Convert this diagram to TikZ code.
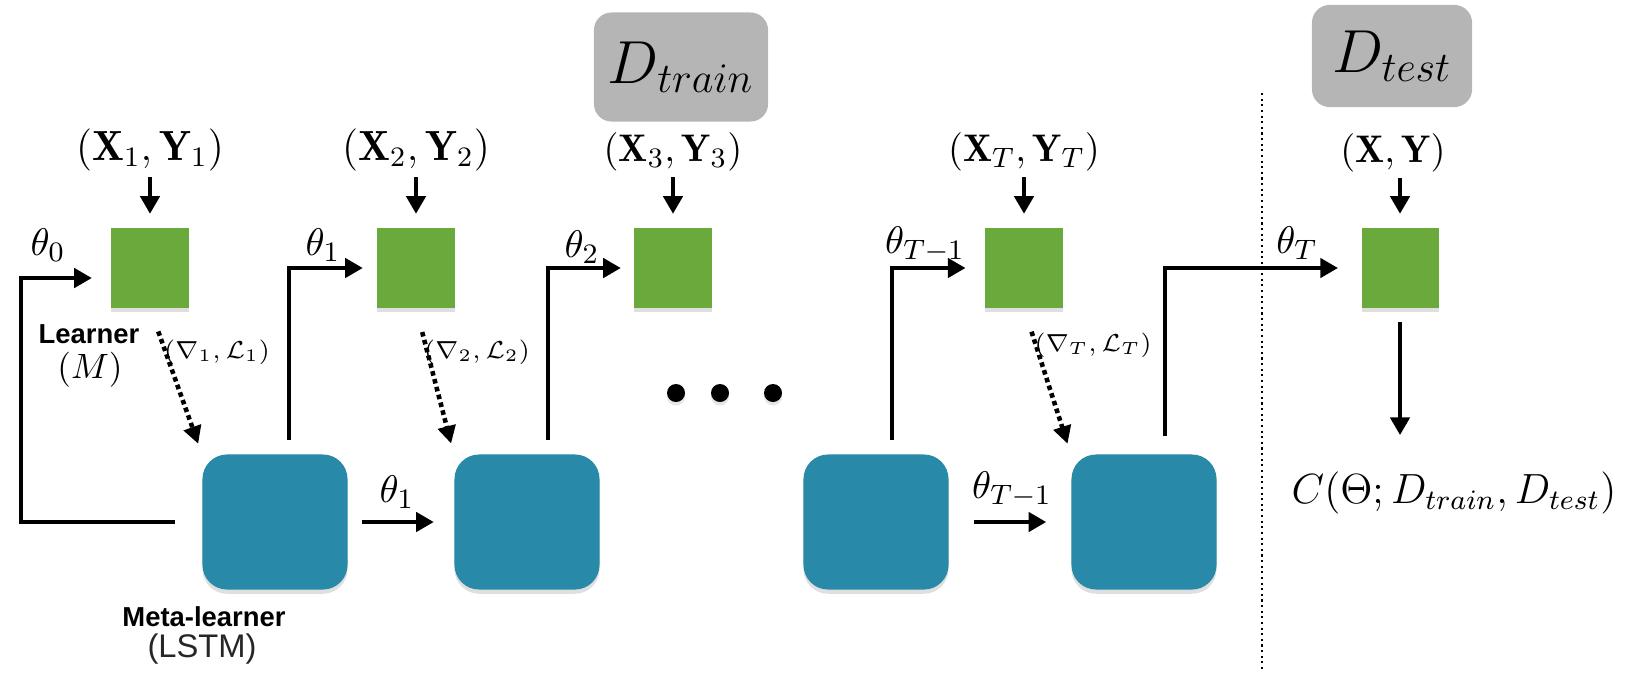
\documentclass[tikz,border=0pt]{standalone}
\usepackage{amsmath, amssymb}
\usepackage{fontspec}
\newfontfamily\sansfam{Liberation Sans}
\usepackage{tikz}
\usetikzlibrary{arrows.meta, positioning, shadows}
\usepackage{xcolor}
\definecolor{learnergreen}{RGB}{106,170,60}
\definecolor{metablue}{RGB}{40,137,168}
\definecolor{setgray}{RGB}{181,181,181}

\begin{document}
\begin{tikzpicture}[
  x=0.01cm, y=-0.01cm,
  learner/.style={fill=learnergreen, minimum width=0.77cm, minimum height=0.79cm, inner sep=0pt,
    drop shadow={opacity=0.25, shadow xshift=0pt, shadow yshift=-1.2pt}},
  meta/.style={fill=metablue, rounded corners=7pt, minimum width=1.45cm, minimum height=1.35cm, inner sep=0pt,
    drop shadow={opacity=0.25, shadow xshift=0pt, shadow yshift=-1.2pt}},
  dataset/.style={fill=setgray, rounded corners=5pt, inner sep=0pt, font=\LARGE},
  pairbig/.style={inner sep=1.5pt, font=\large},
  pair/.style={inner sep=1.5pt, font=\fontsize{10.95}{13}\selectfont},
  theta/.style={inner sep=1pt, font=\fontsize{10.95}{13}\selectfont},
  gradlbl/.style={inner sep=1pt, font=\scriptsize},
  rolelbl/.style={inner sep=0.5pt, font=\sansfam\bfseries\fontsize{7.8}{9}\selectfont},
  rolesub/.style={inner sep=0.5pt, text=black!85, font=\sansfam\fontsize{9.3}{11}\selectfont},
  arrow/.style={-{Triangle[length=5pt, width=5.5pt]}, line width=1pt},
  gradarrow/.style={-{Triangle[length=5pt, width=5pt]}, line width=1.3pt, densely dotted, shorten <=7pt, shorten >=3pt},
  divider/.style={densely dotted, line width=0.6pt}
]
\useasboundingbox (0,0) rectangle (1634,672);

% Data sets
\node[dataset, minimum width=1.74cm, minimum height=1.09cm] (dtrain) at (681,67) {$D_{train}$};
\node[dataset, minimum width=1.60cm, minimum height=1.02cm] (dtest) at (1392,56) {$D_{test}$};

% Episode data
\node[pairbig] (x1) at (150,150) {$(\mathbf{X}_1, \mathbf{Y}_1)$};
\node[pairbig] (x2) at (416,150) {$(\mathbf{X}_2, \mathbf{Y}_2)$};
\node[pair] (x3) at (673,152) {$(\mathbf{X}_3, \mathbf{Y}_3)$};
\node[pair] (xT) at (1024,152) {$(\mathbf{X}_T, \mathbf{Y}_T)$};
\node[pair] (xtest) at (1393,153) {$(\mathbf{X}, \mathbf{Y})$};

% Learners
\node[learner] (l1) at (150,268) {};
\node[learner] (l2) at (416,268) {};
\node[learner] (l3) at (673,268) {};
\node[learner] (lT) at (1024,268) {};
\node[learner] (ltest) at (1400,268) {};

% Meta-learners
\node[meta] (m1) at (275,522) {};
\node[meta] (m2) at (527,522) {};
\node[meta] (m3) at (876,522) {};
\node[meta] (mT) at (1144,522) {};

% Role labels
\node[rolelbl] (learnerlbl) at (89,334) {Learner};
\node[inner sep=1pt] (learnersub) at (90,370) {$(M)$};
\node[rolelbl] (metalbl) at (204,617) {Meta-learner};
\node[rolesub] (metasub) at (202,649) {(LSTM)};

% Parameter labels
\node[theta] (th0) at (48,245) {$\theta_0$};
\node[theta] (th1) at (323,245) {$\theta_1$};
\node[theta] (th2) at (582,247) {$\theta_2$};
\node[theta] (thTm) at (925,245) {$\theta_{T-1}$};
\node[theta] (thT) at (1297,243) {$\theta_T$};
\node[theta] (th1low) at (397,492) {$\theta_1$};
\node[theta] (thTmlow) at (1012,490) {$\theta_{T-1}$};

% Gradient labels
\node[gradlbl] (g1) at (217,352) {$(\nabla_1, \mathcal{L}_1)$};
\node[gradlbl] (g2) at (477,352) {$(\nabla_2, \mathcal{L}_2)$};
\node[gradlbl] (gT) at (1093,345) {$(\nabla_T, \mathcal{L}_T)$};

% Cost
\node[inner sep=1pt, font=\large] (cost) at (1454,493) {$C(\Theta; D_{train}, D_{test})$};
\coordinate (costin) at (1400,435);

% Dots
\foreach \x in {676,720,773}
  \fill[drop shadow={opacity=0.2, shadow xshift=0pt, shadow yshift=-1pt}] (\x,393) circle[radius=0.09cm];

% Train / test split
\coordinate (divtop) at (1262,93);
\coordinate (divbot) at (1262,672);
\draw[divider] (divtop) -- (divbot);

% Data into learners
\draw[arrow, shorten >=4pt] (x1) -- (l1);
\draw[arrow, shorten >=4pt] (x2) -- (l2);
\draw[arrow, shorten >=4pt] (x3) -- (l3);
\draw[arrow, shorten >=4pt] (xT) -- (lT);
\draw[arrow, shorten >=4pt] (xtest.south -| ltest) -- (ltest);

% Gradients and losses
\draw[gradarrow] (l1.south) -- (m1.north west);
\draw[gradarrow] (l2.south) -- (m2.north west);
\draw[gradarrow] (lT.south) -- (mT.north west);

% Parameters to learners
\draw[arrow, shorten <=7.5pt, shorten >=5.4pt] (m1.west) -- ++(-181,0) |- ([yshift=-0.1cm]l1.west);
\draw[arrow, shorten <=4pt, shorten >=4pt] ([xshift=0.14cm]m1.north) |- (l2.west);
\draw[arrow, shorten <=4pt, shorten >=3.7pt] ([xshift=0.21cm]m2.north) |- (l3.west);
\draw[arrow, shorten <=4pt, shorten >=5.5pt] ([xshift=0.16cm]m3.north) |- (lT.west);
\draw[arrow, shorten <=5pt, shorten >=6.5pt] ([xshift=0.21cm]mT.north) |- (ltest.west);

% Meta-learner state
\draw[arrow, shorten <=4pt, shorten >=5.7pt] (m1) -- (m2);
\draw[arrow, shorten <=7pt, shorten >=7pt] (m3) -- (mT);

% Test cost
\draw[arrow, shorten <=4pt] (ltest) -- (costin);

\end{tikzpicture}
\end{document}
